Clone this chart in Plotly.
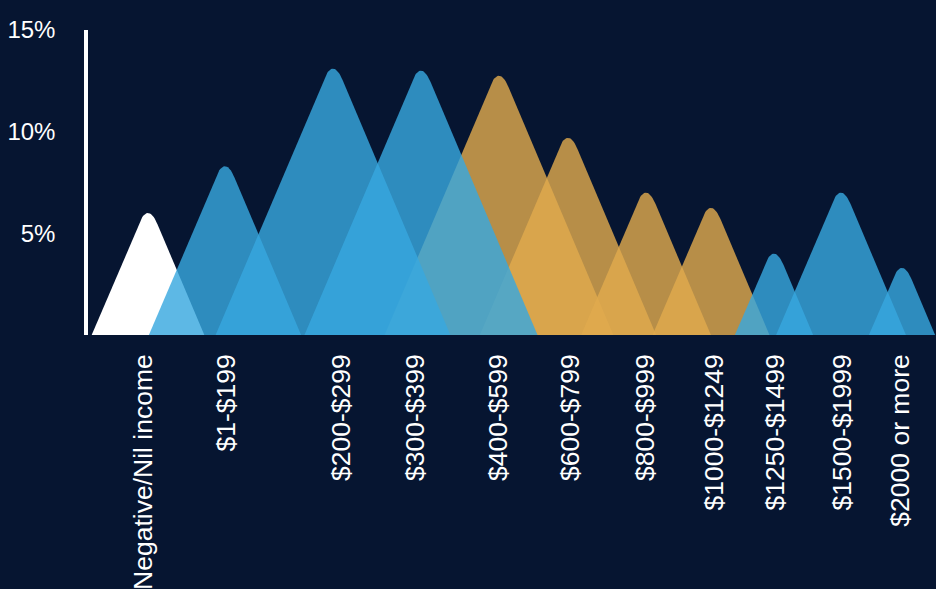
import plotly.graph_objects as go

# ---- data ----
categories = ["Negative/Nil income", "$1-$199", "$200-$299", "$300-$399", "$400-$599",
              "$600-$799", "$800-$999", "$1000-$1249", "$1250-$1499", "$1500-$1999",
              "$2000 or more"]
values = [6.0, 8.3, 13.1, 13.0, 12.75, 9.7, 7.0, 6.25, 4.0, 7.0, 3.3]   # percent
x_pos = [60, 137, 245, 333, 411, 480, 558, 623, 686, 753, 814]        # peak centres on the x axis
label_pos = [55, 138, 253, 327, 410, 482, 557, 626, 687, 754, 812]    # category label positions
groups = ["white", "blue", "blue", "blue", "gold", "gold", "gold", "gold", "blue", "blue", "blue"]
y_ticks = [5, 10, 15]
y_tick_text = ["5%", "10%", "15%"]

# ---- style ----
BG = "#061531"
FILL = {"white": "rgba(255,255,255,1)",
        "blue": "rgba(55,167,223,0.81)",
        "gold": "rgba(224,170,78,0.81)"}
K = 8.6        # half-width in x units per percentage point
ROUND = 1.1    # depth of the rounded apex (percentage points)
FONT = "Liberation Sans, Arial, sans-serif"


def peak_path(c, v):
    a = v + ROUND / 2.0          # theoretical apex so the visible top equals v
    xs = [c - K * a]
    ys = [0.0]
    p0 = (c - K * ROUND, a - ROUND)
    p1 = (c, a)
    p2 = (c + K * ROUND, a - ROUND)
    n = 20
    for i in range(n + 1):
        t = i / n
        xs.append((1 - t) ** 2 * p0[0] + 2 * (1 - t) * t * p1[0] + t ** 2 * p2[0])
        ys.append((1 - t) ** 2 * p0[1] + 2 * (1 - t) * t * p1[1] + t ** 2 * p2[1])
    xs.append(c + K * a)
    ys.append(0.0)
    return xs, ys


fig = go.Figure()
order = ["white", "gold", "blue"]
for g in order:
    for cat, v, c, grp in zip(categories, values, x_pos, groups):
        if grp != g:
            continue
        xs, ys = peak_path(c, v)
        fig.add_trace(go.Scatter(
            x=xs, y=ys, mode="lines", fill="toself",
            fillcolor=FILL[grp], line=dict(width=0),
            hoverinfo="skip", showlegend=False, name=cat))

fig.update_layout(
    width=936, height=589,
    paper_bgcolor=BG, plot_bgcolor=BG,
    margin=dict(l=88, r=0, t=30, b=254),
    font=dict(family=FONT, color="white", size=24),
    showlegend=False,
)
fig.update_xaxes(
    range=[0, 848], showgrid=False, zeroline=False, showline=False,
    tickmode="array", tickvals=label_pos, ticktext=categories,
    tickangle=-90, ticks="", ticklabelstandoff=13,
    tickfont=dict(family=FONT, color="white", size=26.5),
    automargin=False, fixedrange=True,
)
fig.update_yaxes(
    range=[0, 15], showgrid=False, zeroline=False,
    showline=True, linecolor="white", linewidth=3.5,
    tickmode="array", tickvals=y_ticks, ticktext=y_tick_text,
    ticks="", ticklabelstandoff=24,
    tickfont=dict(family=FONT, color="white", size=24),
    automargin=False, fixedrange=True,
)

fig.write_html(
    "out.html",
    config={"displayModeBar": False},
    post_script="document.body.style.margin='0';document.body.style.padding='0';"
                "document.body.style.background='" + BG + "';",
)
